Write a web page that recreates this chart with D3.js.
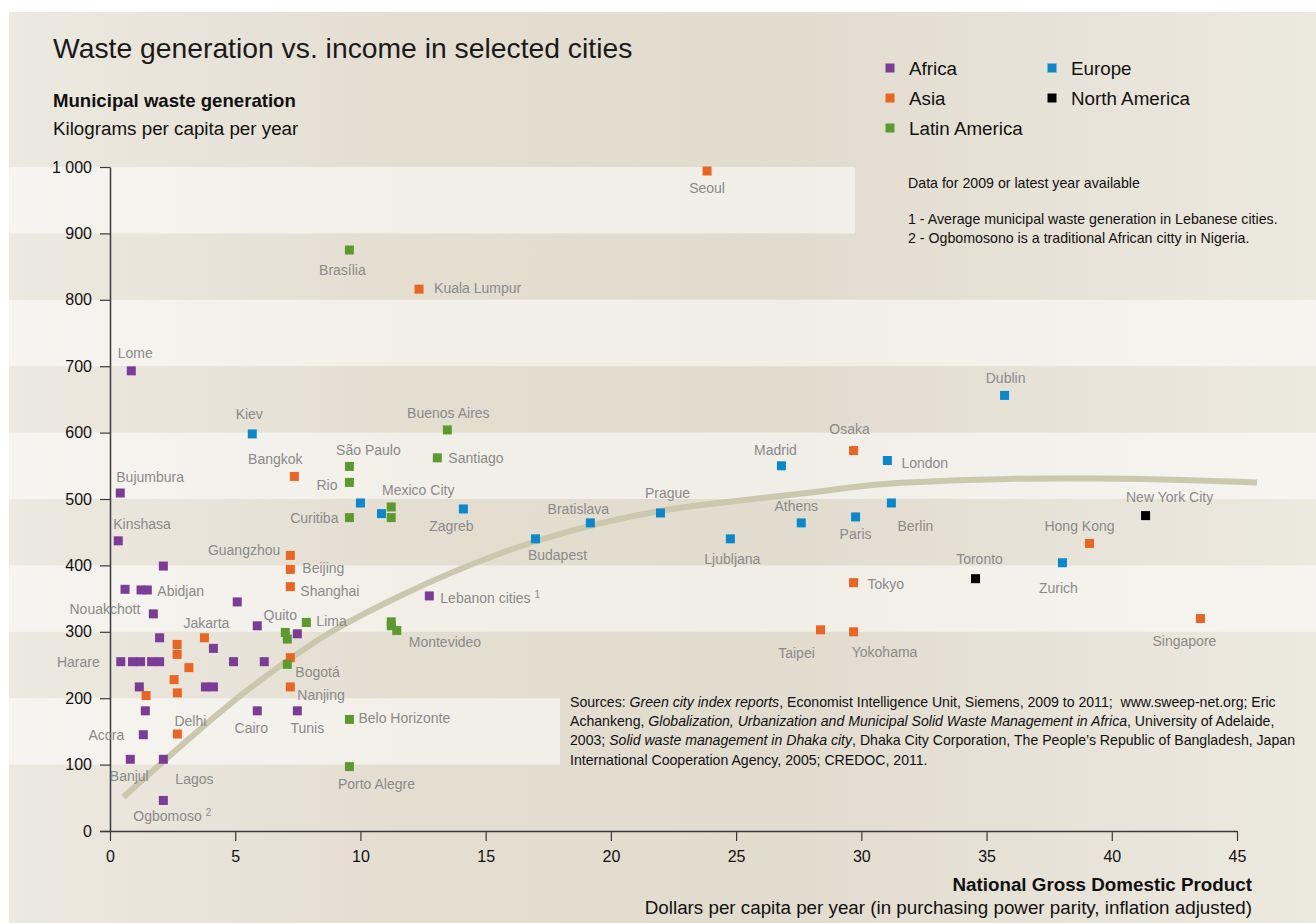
<!DOCTYPE html>
<html>
<head>
<meta charset="utf-8">
<script src="https://cdn.jsdelivr.net/npm/d3@7"></script>
<style>
  html, body { margin: 0; padding: 0; background: #ffffff; }
  svg { display: block; font-family: "Liberation Sans", Arial, sans-serif; }
</style>
</head>
<body>
<svg id="chart" width="1316" height="923"></svg>
<script>
// ---------------- DATA ----------------
const regions = ["Africa", "Asia", "Latin America", "Europe", "North America"];
const regionColors = ["#7b3c98", "#ec6421", "#5c9a2e", "#0a88cc", "#000000"];

const africaCities = ["Lome","Bujumbura","Kinshasa","","","","Abidjan","Nouakchott","","","","","","Harare","","","","","","","","","","","Cairo","Tunis","Accra","Banjul","Lagos","Ogbomoso","Lebanon cities"];
const africaGdp    = [0.85,0.41,0.33,2.13,0.6,1.24,1.49,1.73,5.08,1.98,4.13,5.88,7.48,0.43,0.9,1.22,1.66,1.98,4.93,6.16,1.17,3.81,4.13,1.41,5.88,7.48,1.33,0.81,2.13,2.13,12.75];
const africaWaste  = [693,509,437,399,364,363,363,327,345,291,275,309,297,255,255,255,255,255,255,255,217,217,217,181,181,181,145,108,108,46,354];

const asiaCities = ["Seoul","Kuala Lumpur","Bangkok","Guangzhou","Beijing","Shanghai","","Nanjing","Jakarta","","","","","","","Delhi","Osaka","Tokyo","Taipei","Yokohama","Hong Kong","Singapore"];
const asiaGdp    = [23.84,12.34,7.36,7.2,7.2,7.2,7.2,7.2,3.77,2.68,2.68,3.15,2.56,2.69,1.44,2.69,29.69,29.69,28.37,29.69,39.11,43.54];
const asiaWaste  = [994,816,534,415,394,368,261,217,291,281,266,246,228,208,204,146,573,374,303,300,433,320];

const latinCities = ["Brasília","Buenos Aires","Santiago","São Paulo","Rio","Curitiba","Mexico City","","Lima","Quito","","Bogotá","","","Montevideo","Belo Horizonte","Porto Alegre"];
const latinGdp    = [9.56,13.47,13.07,9.56,9.56,9.56,11.23,11.23,7.84,7.0,7.08,7.08,11.23,11.23,11.45,9.56,9.56];
const latinWaste  = [875,604,562,549,525,472,488,472,314,299,289,251,315,309,302,168,97];

const europeCities = ["Kiev","","","Zagreb","Budapest","Bratislava","Prague","Ljubljana","Madrid","Athens","Paris","London","Berlin","Dublin","Zurich"];
const europeGdp    = [5.68,10.0,10.84,14.11,16.99,19.18,21.98,24.77,26.81,27.6,29.77,31.04,31.2,35.72,38.03];
const europeWaste  = [598,494,478,485,440,464,479,440,550,464,473,558,494,656,404];

const northAmCities = ["Toronto","New York City"];
const northAmGdp    = [34.56,41.35];
const northAmWaste  = [380,475];

// trend line
const trendGdp   = [0.53,1.6,5.59,8.79,11.58,15.58,16.97,21.96,24.76,27.56,31.43,37.94,39.26,45.8];
const trendWaste = [51,87,215,299,354,418,436,482,496,508,524,531,531,525];

const xTicks = [0,5,10,15,20,25,30,35,40,45];
const yTicks = [0,100,200,300,400,500,600,700,800,900,1000];
const yTickLabels = ["0","100","200","300","400","500","600","700","800","900","1 000"];

const footnotes = { "Lebanon cities": "1", "Ogbomoso": "2" };

// ---------------- LAYOUT (label placement: dx, dy, anchor) ----------------
const labelPos = {
  "Lome":[4,-13,"middle"], "Bujumbura":[-4,-11,"start"], "Kinshasa":[-5,-12,"start"],
  "Abidjan":[10,6,"start"], "Nouakchott":[-13,0,"end"], "Harare":[-21,5,"end"],
  "Cairo":[-6,22,"middle"], "Tunis":[10,22,"middle"], "Accra":[-19,5,"end"],
  "Banjul":[-1,22,"middle"], "Lagos":[12,25,"start"], "Ogbomoso":[-30,21,"start"],
  "Lebanon cities":[11,7,"start"],
  "Seoul":[0,22,"middle"], "Kuala Lumpur":[15,4,"start"], "Bangkok":[-19,-12,"middle"],
  "Guangzhou":[-10,0,"end"], "Beijing":[12,4,"start"], "Shanghai":[10,9,"start"],
  "Nanjing":[7,13,"start"], "Jakarta":[2,-10,"middle"], "Delhi":[13,-8,"middle"],
  "Osaka":[-4,-17,"middle"], "Tokyo":[14,6,"start"], "Taipei":[-24,28,"middle"],
  "Yokohama":[31,25,"middle"], "Hong Kong":[-10,-12,"middle"], "Singapore":[-16,27,"middle"],
  "Brasília":[-7,25,"middle"], "Buenos Aires":[1,-12,"middle"], "Santiago":[11,5,"start"],
  "São Paulo":[19,-11,"middle"], "Rio":[-12,8,"end"], "Curitiba":[-11,5,"end"],
  "Mexico City":[27,-12,"middle"], "Lima":[10,3,"start"], "Quito":[-5,-12,"middle"],
  "Bogotá":[8,13,"start"], "Montevideo":[12,17,"start"], "Belo Horizonte":[9,4,"start"],
  "Porto Alegre":[27,22,"middle"],
  "Kiev":[-3,-15,"middle"], "Zagreb":[-12,22,"middle"], "Budapest":[22,21,"middle"],
  "Bratislava":[-12,-9,"middle"], "Prague":[7,-15,"middle"], "Ljubljana":[2,25,"middle"],
  "Madrid":[-6,-11,"middle"], "Athens":[-5,-12,"middle"], "Paris":[0,22,"middle"],
  "London":[14,8,"start"], "Berlin":[24,28,"middle"], "Dublin":[1,-12,"middle"],
  "Zurich":[-4,30,"middle"], "Toronto":[4,-15,"middle"], "New York City":[24,-14,"middle"]
};

// ---------------- BUILD ----------------
const svg = d3.select("#chart");
const W = 1316, H = 923;

const x = d3.scaleLinear().domain([0,45]).range([110,1237]);
const y = d3.scaleLinear().domain([0,1000]).range([831,167]);
const color = d3.scaleOrdinal().domain(regions).range(regionColors);

const defs = svg.append("defs");
const grad = defs.append("linearGradient").attr("id","bg").attr("x1","0").attr("x2","1").attr("y1","0").attr("y2","0");
grad.append("stop").attr("offset","0").attr("stop-color","#ece9e0");
grad.append("stop").attr("offset","0.3").attr("stop-color","#e4ded1");
grad.append("stop").attr("offset","0.6").attr("stop-color","#e2dccf");
grad.append("stop").attr("offset","1").attr("stop-color","#ece9df");

svg.append("rect").attr("x",0).attr("y",0).attr("width",W).attr("height",H).attr("fill","#ffffff");
svg.append("rect").attr("x",9).attr("y",12).attr("width",W-9).attr("height",H-12).attr("fill","url(#bg)");

// light bands
const bands = [[100,200],[300,400],[500,600],[700,800],[900,1000]];
svg.append("g").selectAll("rect").data(bands).join("rect")
  .attr("x", 9)
  .attr("y", d => y(d[1]))
  .attr("width", d => d[1] === 1000 ? 855 - 9 : (d[1] === 200 ? 560 - 9 : W - 9))
  .attr("height", d => y(d[0]) - y(d[1]))
  .attr("fill", "#ffffff").attr("fill-opacity", 0.52);

// title & axis titles
svg.append("text").attr("x",53).attr("y",58).attr("font-size",28.3).attr("fill","#1a1a1a")
  .text("Waste generation vs. income in selected cities");
svg.append("text").attr("x",53).attr("y",107).attr("font-size",18.6).attr("font-weight","bold").attr("fill","#111")
  .text("Municipal waste generation");
svg.append("text").attr("x",53).attr("y",135).attr("font-size",18.8).attr("fill","#111")
  .text("Kilograms per capita per year");
svg.append("text").attr("x",1252).attr("y",891).attr("font-size",18.8).attr("font-weight","bold").attr("fill","#111")
  .attr("text-anchor","end").text("National Gross Domestic Product");
svg.append("text").attr("x",1252).attr("y",914).attr("font-size",18.8).attr("fill","#111")
  .attr("text-anchor","end").text("Dollars per capita per year (in purchasing power parity, inflation adjusted)");

// trend line
const trend = trendGdp.map((g,i) => [g, trendWaste[i]]);
svg.append("path").datum(trend)
  .attr("d", d3.line().x(d => x(d[0])).y(d => y(d[1])).curve(d3.curveMonotoneX))
  .attr("fill","none").attr("stroke","#cbc8ad").attr("stroke-width",6);

// axes
const yAxis = d3.axisLeft(y).tickValues(yTicks).tickFormat((d,i) => yTickLabels[i]).tickSize(10).tickSizeOuter(0).tickPadding(8);
const gy = svg.append("g").attr("transform","translate(110,0)").call(yAxis);
const xAxis = d3.axisBottom(x).tickValues(xTicks).tickFormat(d3.format("d")).tickSize(10).tickSizeOuter(0).tickPadding(10);
const gx = svg.append("g").attr("transform","translate(0,831)").call(xAxis);
[gx, gy].forEach(g => {
  g.selectAll("path").attr("stroke","#3a3a3a").attr("stroke-width",1.5);
  g.selectAll("line").attr("stroke","#3a3a3a").attr("stroke-width",1.2);
  g.selectAll("text").attr("font-size",16).attr("fill","#111").attr("font-family","Liberation Sans, Arial, sans-serif");
});
gx.select("path.domain").attr("d","M100,0.5H1237");

// points
const groups = [
  ["Africa", africaCities, africaGdp, africaWaste],
  ["Asia", asiaCities, asiaGdp, asiaWaste],
  ["Latin America", latinCities, latinGdp, latinWaste],
  ["Europe", europeCities, europeGdp, europeWaste],
  ["North America", northAmCities, northAmGdp, northAmWaste]
];
const points = [];
groups.forEach(([r, names, gdp, waste]) => names.forEach((n,i) => points.push({region:r, name:n, gdp:gdp[i], waste:waste[i]})));

const S = 9;
svg.append("g").selectAll("rect").data(points).join("rect")
  .attr("x", d => x(d.gdp) - S/2).attr("y", d => y(d.waste) - S/2)
  .attr("width", S).attr("height", S)
  .attr("fill", d => color(d.region));

// labels
const lbl = svg.append("g").attr("font-size",14).attr("fill","#8a8a8a");
points.filter(d => d.name).forEach(d => {
  const p = labelPos[d.name] || [0,-12,"middle"];
  const t = lbl.append("text")
    .attr("x", x(d.gdp) + p[0]).attr("y", y(d.waste) + p[1])
    .attr("text-anchor", p[2]).text(d.name);
  if (footnotes[d.name]) {
    t.append("tspan").attr("font-size",10).attr("dx",4).attr("dy",-5).text(footnotes[d.name]);
  }
});

// legend
const legendPos = [[890,68],[890,98],[890,128],[1052,68],[1052,98]];
const lg = svg.append("g");
regions.forEach((r,i) => {
  const [lx, ly] = legendPos[i];
  lg.append("rect").attr("x",lx-4.5).attr("y",ly-4.5).attr("width",9).attr("height",9).attr("fill",color(r));
  lg.append("text").attr("x",lx+19).attr("y",ly+7).attr("font-size",18.8).attr("fill","#111").text(r);
});

// notes
const notes = svg.append("g").attr("font-size",14.2).attr("fill","#111");
notes.append("text").attr("x",908).attr("y",188).text("Data for 2009 or latest year available");
notes.append("text").attr("x",908).attr("y",224).text("1 - Average municipal waste generation in Lebanese cities.");
notes.append("text").attr("x",908).attr("y",243).text("2 - Ogbomosono is a traditional African citty in Nigeria.");

// sources
const srcLines = [
  [["Sources: ",false],["Green city index reports",true],[", Economist Intelligence Unit, Siemens, 2009 to 2011;  www.sweep-net.org; Eric",false]],
  [["Achankeng, ",false],["Globalization, Urbanization and Municipal Solid Waste Management in Africa",true],[", University of Adelaide,",false]],
  [["2003; ",false],["Solid waste management in Dhaka city",true],[", Dhaka City Corporation, The People’s Republic of Bangladesh, Japan",false]],
  [["International Cooperation Agency, 2005; CREDOC, 2011.",false]]
];
const src = svg.append("g").attr("font-size",14.1).attr("fill","#111");
srcLines.forEach((line,i) => {
  const t = src.append("text").attr("x",570).attr("y",707 + i*19.2).attr("xml:space","preserve");
  line.forEach(([s,it]) => t.append("tspan").attr("font-style", it ? "italic" : "normal").text(s));
});
</script>
</body>
</html>
